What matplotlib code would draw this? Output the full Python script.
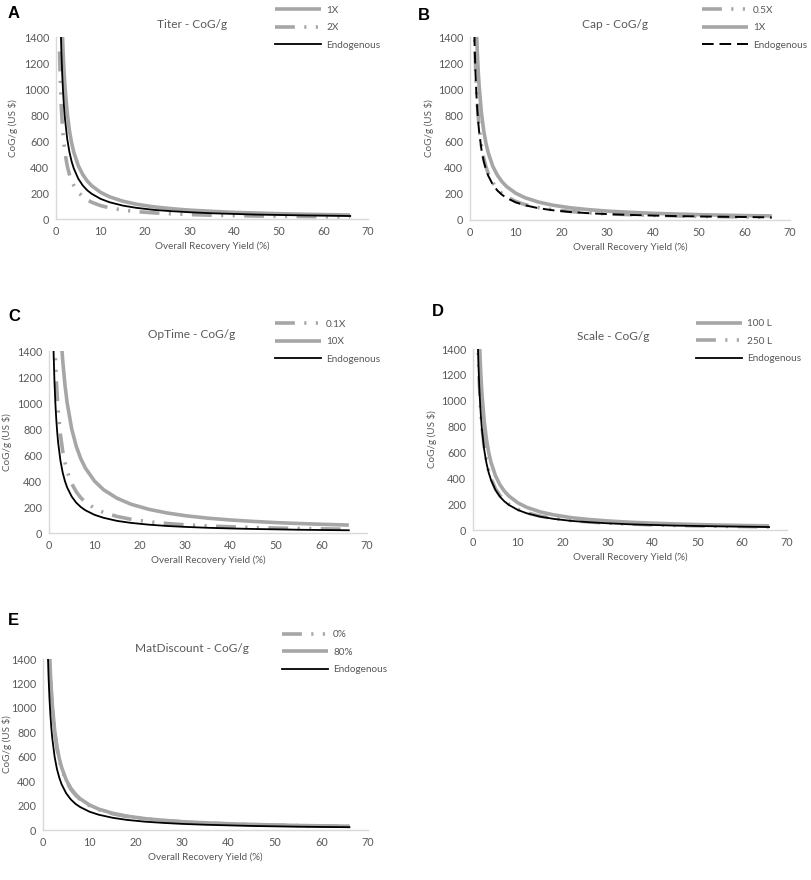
import matplotlib
matplotlib.use("Agg")
import matplotlib.pyplot as plt

plt.rcParams['font.family'] = ['Lato', 'DejaVu Sans']

# ---------------- data ----------------
YIELD = [0.8, 1.0, 1.2, 1.4, 1.6, 1.8, 2.0, 2.5, 3.0, 3.5, 4.0, 5, 6, 7, 8,
         10, 12, 15, 18, 22, 26, 30, 35, 40, 45, 50, 55, 60, 66]

# Panel A: Titer
A_1X = [2563, 2050, 1708, 1464, 1281, 1139, 1025, 820, 683, 586, 513, 410, 342, 293, 256,
        205, 171, 137, 114, 93, 79, 68, 59, 51, 46, 41, 37, 34, 31]
A_2X = [1288, 1030, 858, 736, 644, 572, 515, 412, 343, 294, 258, 206, 172, 147, 129,
        103, 86, 69, 57, 47, 40, 34, 29, 26, 23, 21, 19, 17, 16]
A_ENDO = [1938, 1550, 1292, 1107, 969, 861, 775, 620, 517, 443, 388, 310, 258, 221, 194,
          155, 129, 103, 86, 70, 60, 52, 44, 39, 34, 31, 28, 26, 23]

# Panel B: Cap
B_05X = [1775, 1420, 1183, 1014, 888, 789, 710, 568, 473, 406, 355, 284, 237, 203, 178,
         142, 118, 95, 79, 65, 55, 47, 41, 36, 32, 28, 26, 24, 22]
B_1X = [2563, 2050, 1708, 1464, 1281, 1139, 1025, 820, 683, 586, 513, 410, 342, 293, 256,
        205, 171, 137, 114, 93, 79, 68, 59, 51, 46, 41, 37, 34, 31]
B_ENDO = [1688, 1350, 1125, 964, 844, 750, 675, 540, 450, 386, 338, 270, 225, 193, 169,
          135, 113, 90, 75, 61, 52, 45, 39, 34, 30, 27, 25, 23, 20]

# Panel C: OpTime
C_01X = [2375, 1900, 1583, 1357, 1188, 1056, 950, 760, 633, 543, 475, 380, 317, 271, 238,
         190, 158, 127, 106, 86, 73, 63, 54, 48, 42, 38, 35, 32, 29]
C_10X = [5000, 4000, 3333, 2857, 2500, 2222, 2000, 1600, 1333, 1143, 1000, 800, 667, 571, 500,
         400, 333, 267, 222, 182, 154, 133, 114, 100, 89, 80, 73, 67, 61]
C_ENDO = [1750, 1400, 1167, 1000, 875, 778, 700, 560, 467, 400, 350, 280, 233, 200, 175,
          140, 117, 93, 78, 64, 54, 47, 40, 35, 31, 28, 25, 23, 21]

# Panel D: Scale
D_100L = [2625, 2100, 1750, 1500, 1313, 1167, 1050, 840, 700, 600, 525, 420, 350, 300, 263,
          210, 175, 140, 117, 95, 81, 70, 60, 53, 47, 42, 38, 35, 32]
D_250L = [2000, 1600, 1333, 1143, 1000, 889, 800, 640, 533, 457, 400, 320, 267, 229, 200,
          160, 133, 107, 89, 73, 62, 53, 46, 40, 36, 32, 29, 27, 24]
D_ENDO = [1938, 1550, 1292, 1107, 969, 861, 775, 620, 517, 443, 388, 310, 258, 221, 194,
          155, 129, 103, 86, 70, 60, 52, 44, 39, 34, 31, 28, 26, 23]

# Panel E: MatDiscount
E_0 = [2500, 2000, 1667, 1429, 1250, 1111, 1000, 800, 667, 571, 500, 400, 333, 286, 250,
       200, 167, 133, 111, 91, 77, 67, 57, 50, 44, 40, 36, 33, 30]
E_80 = [2563, 2050, 1708, 1464, 1281, 1139, 1025, 820, 683, 586, 513, 410, 342, 293, 256,
        205, 171, 137, 114, 93, 79, 68, 59, 51, 46, 41, 37, 34, 31]
E_ENDO = [1875, 1500, 1250, 1071, 938, 833, 750, 600, 500, 429, 375, 300, 250, 214, 188,
          150, 125, 100, 83, 68, 58, 50, 43, 38, 33, 30, 27, 25, 23]

X_TICKS = [0, 10, 20, 30, 40, 50, 60, 70]
Y_TICKS = [0, 200, 400, 600, 800, 1000, 1200, 1400]

# ---------------- styles ----------------
GRAY = '#a6a6a6'
TXT = '#595959'
SPINE = '#d9d9d9'
TICK_FS = 7.8
LAB_FS = 7.1
LEG_FS = 7.2
solid_gray = dict(color=GRAY, lw=2.6, solid_capstyle='butt')
dashdot_gray = dict(color=GRAY, lw=2.6, dashes=(5.5, 2.6, 0.6, 2.6, 0.6, 2.6))
solid_black = dict(color='black', lw=1.3)
dash_black = dict(color='black', lw=1.4, dashes=(6, 3))

W, H = 811, 880
fig = plt.figure(figsize=(W / 100, H / 100), dpi=100)


def px_axes(l, t, r, b):
    return fig.add_axes([l / W, 1 - b / H, (r - l) / W, (b - t) / H])


panels = [
    dict(box=(56, 37, 368, 219), letter='A', lpos=(8, 14), title='Titer - CoG/g', tpos=(192, 24),
         series=[('1X', A_1X, solid_gray), ('2X', A_2X, dashdot_gray), ('Endogenous', A_ENDO, solid_black)],
         leg=(272, 3), ylx=13),
    dict(box=(470, 37, 790, 220), letter='B', lpos=(418, 16), title='Cap - CoG/g', tpos=(615, 24),
         series=[('0.5X', B_05X, dashdot_gray), ('1X', B_1X, solid_gray), ('Endogenous', B_ENDO, dash_black)],
         leg=(699, 3), ylx=429),
    dict(box=(49, 351, 367, 533), letter='C', lpos=(8, 316), title='OpTime - CoG/g', tpos=(192, 334),
         series=[('0.1X', C_01X, dashdot_gray), ('10X', C_10X, solid_gray), ('Endogenous', C_ENDO, solid_black)],
         leg=(272, 317), ylx=7),
    dict(box=(473, 349, 787, 530), letter='D', lpos=(432, 312), title='Scale - CoG/g', tpos=(613, 336),
         series=[('100 L', D_100L, solid_gray), ('250 L', D_250L, dashdot_gray), ('Endogenous', D_ENDO, solid_black)],
         leg=(693, 316), ylx=432),
    dict(box=(43, 659, 368, 830), letter='E', lpos=(8, 620), title='MatDiscount - CoG/g', tpos=(192, 648),
         series=[('0%', E_0, dashdot_gray), ('80%', E_80, solid_gray), ('Endogenous', E_ENDO, solid_black)],
         leg=(279, 627), ylx=7),
]

for p in panels:
    l, t, r, b = p['box']
    ax = px_axes(l, t, r, b)
    for name, vals, st in p['series']:
        ax.plot(YIELD, vals, label=name, **st)
    ax.set_xlim(0, 70)
    ax.set_ylim(0, 1400)
    ax.set_xticks(X_TICKS)
    ax.set_yticks(Y_TICKS)
    ax.tick_params(length=0, labelsize=TICK_FS, colors=TXT, pad=5)
    for s in ['top', 'right']:
        ax.spines[s].set_visible(False)
    for s in ['left', 'bottom']:
        ax.spines[s].set_color(SPINE)
        ax.spines[s].set_linewidth(1.0)
    ax.set_xlabel('Overall Recovery Yield (%)', fontsize=LAB_FS, color=TXT, labelpad=3)
    ax.set_ylabel('CoG/g (US $)', fontsize=LAB_FS, color=TXT, va='center')
    ax.yaxis.set_label_coords((p['ylx'] - l) / (r - l), 0.5)
    ax.patch.set_alpha(0)
    fig.text(p['lpos'][0] / W, 1 - p['lpos'][1] / H, p['letter'], fontsize=12, fontweight='bold',
             family=['Liberation Sans', 'DejaVu Sans'], ha='left', va='center', color='black')
    fig.text(p['tpos'][0] / W, 1 - p['tpos'][1] / H, p['title'], fontsize=8.6, color=TXT,
             ha='center', va='center')
    fig.legend(handles=ax.get_lines(), loc='upper left',
               bbox_to_anchor=(p['leg'][0] / W, 1 - p['leg'][1] / H),
               frameon=False, fontsize=LEG_FS, handlelength=4.6, handletextpad=0.5,
               labelspacing=0.85, borderaxespad=0, borderpad=0.3, labelcolor=TXT)

fig.savefig('out.png', dpi=100)
